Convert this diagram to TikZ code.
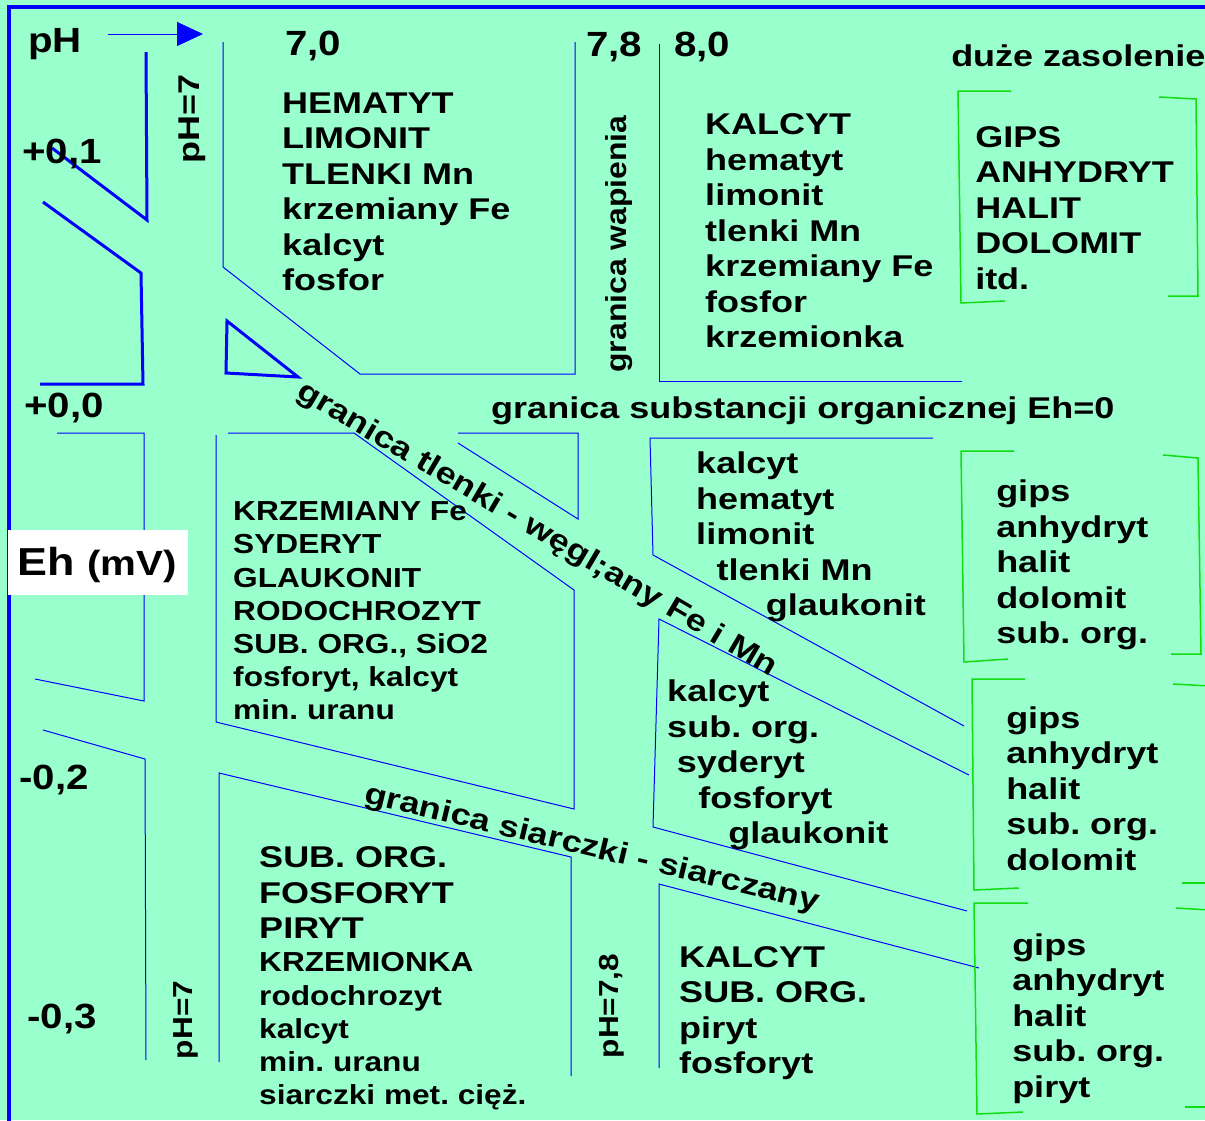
\documentclass[tikz,border=0pt]{standalone}
\usepackage{fontspec}
\setmainfont{Liberation Sans}
\usepackage{tikz}
\usetikzlibrary{arrows.meta}
\definecolor{mintbg}{HTML}{99FFCC}
\definecolor{lineblue}{HTML}{0000FF}
\definecolor{boxgreen}{HTML}{11DD11}
\frenchspacing
\tikzset{
  bigtxt/.style={font=\fontsize{30}{35.5}\selectfont\bfseries, xscale=1.2, inner sep=0pt, align=left},
  smalltxt/.style={font=\fontsize{27.5}{33.2}\selectfont\bfseries, xscale=1.15, inner sep=0pt, align=left},
  labtxt/.style={font=\fontsize{35}{40}\selectfont\bfseries, xscale=1.15, inner sep=0pt},
  bline/.style={lineblue, line width=1pt},
  bthick/.style={lineblue, line width=3pt},
  gline/.style={boxgreen, line width=1.5pt}
}

\begin{document}
\begin{tikzpicture}[x=1pt, y=-1pt]
  \useasboundingbox (0,0) rectangle (1205,1120);
  \fill[mintbg] (0,0) rectangle (1205,1120);
  \draw[lineblue, line width=3.5pt] (9,1130) -- (9,7) -- (1215,7);

  \draw[bline] (223,42) -- (223,267) -- (360,374) -- (575,374) -- (575,42);
  \draw[bline] (659,44) -- (659,381) -- (962,381);
  \draw[bline] (57,433) -- (144,433) -- (144,701) -- (35,679);
  \draw[bline] (228,433) -- (354,433) -- (574,590) -- (574,809) -- (216,722) -- (216,435);
  \draw[bline] (458,433) -- (578,433) -- (578,519) -- (458,443);
  \draw[bline] (933,438) -- (650,438) -- (653,555) -- (964,726);
  \draw[bline] (969,775) -- (659,619) -- (653,827) -- (967,911);
  \draw[bline] (43,730) -- (145,759) -- (146,1060);
  \draw[bline] (219,1062) -- (219,773) -- (571,857) -- (571,1076);
  \draw[bline] (979,968) -- (659,884) -- (659,1068);

  \draw[bthick] (146,52) -- (147,220) -- (52,148);
  \draw[bthick] (43,202) -- (141,273) -- (143,384) -- (40,384);
  \draw[bthick] (227,321) -- (226,373) -- (298,377) -- cycle;

  \draw[gline] (1011,91) -- (958,91) -- (961,303) -- (1005,301);
  \draw[gline] (1159,97) -- (1196,99) -- (1198,296) -- (1168,296);
  \draw[gline] (1014,451) -- (961,451) -- (964,662) -- (1008,659);
  \draw[gline] (1163,455) -- (1198,458) -- (1201,654) -- (1171,654);
  \draw[gline] (1025,679) -- (972,679) -- (974,890) -- (1019,888);
  \draw[gline] (1173,684) -- (1210,686);
  \draw[gline] (1182,883) -- (1210,883);
  \draw[gline] (1028,903) -- (974,903) -- (977,1114) -- (1023,1112);
  \draw[gline] (1176,908) -- (1210,910);
  \draw[gline] (1185,1107) -- (1210,1107);

  \node[labtxt, anchor=base west] (ph) at (28,52.7) {pH};
  \coordinate (arrs) at (108,34);
  \coordinate (arre) at (203,34);
  \draw[bline, -{Triangle[length=26pt,width=24pt]}] (arrs) -- (arre);

  \node[labtxt, anchor=base west] (v70) at (285,55) {7,0};
  \node[labtxt, anchor=base west] (v78) at (586,56.5) {7,8};
  \node[labtxt, anchor=base west] (v80) at (674,56.5) {8,0};
  \node[labtxt, anchor=base west] (e01) at (22,163) {+0,1};
  \node[labtxt, anchor=base west] (e00) at (24,417) {+0,0};
  \node[labtxt, anchor=base west] (e02) at (19,789) {-0,2};
  \node[labtxt, anchor=base west] (e03) at (27,1028) {-0,3};

  \fill[white] (8,530) rectangle (188,595);
  \node[anchor=base west, inner sep=0pt, xscale=1.15, font=\bfseries] (eh) at (17,575)
    {\fontsize{39}{44}\selectfont Eh \fontsize{35}{40}\selectfont(mV)};

  \node[rotate=90, bigtxt] (ph7a) at (192,118.5) {pH=7};
  \node[rotate=90, smalltxt] (ph7b) at (186,1020) {pH=7};
  \node[rotate=90, smalltxt] (ph78) at (612,1006) {pH=7,8};
  \node[rotate=90, font=\fontsize{29}{34}\selectfont\bfseries, xscale=1.1, inner sep=0pt] (wap) at (619,244) {granica wapienia};

  \node[rotate=-30.5, bigtxt] (tlen) at (537,530) {granica tlenki - węgl;any Fe i Mn};
  \node[rotate=-13.5, bigtxt] (siar) at (592,849) {granica siarczki - siarczany};
  \node[bigtxt, anchor=base west] (org) at (491,418) {granica substancji organicznej Eh=0};
  \node[bigtxt, anchor=base west] (sol) at (951,66) {duże zasolenie};

  \node[bigtxt, anchor=north west] (hem) at (282,92.5) {HEMATYT\\LIMONIT\\TLENKI Mn\\krzemiany Fe\\kalcyt\\fosfor};
  \node[bigtxt, anchor=north west] (kal) at (705,113.5) {KALCYT\\hematyt\\limonit\\tlenki Mn\\krzemiany Fe\\fosfor\\krzemionka};
  \node[smalltxt, anchor=north west] (krz) at (233,501.5) {KRZEMIANY Fe\\SYDERYT\\GLAUKONIT\\RODOCHROZYT\\SUB. ORG., SiO2\\fosforyt, kalcyt\\min. uranu};
  \node[bigtxt, anchor=north west] (sub) at (259,846.5) {SUB. ORG.\\FOSFORYT\\PIRYT};
  \node[smalltxt, anchor=north west] (krzm) at (259,952.5) {KRZEMIONKA\\rodochrozyt\\kalcyt\\min. uranu\\siarczki met. cięż.};
  \node[bigtxt, anchor=north west] (kalc) at (696,452) {kalcyt\\hematyt\\limonit\\\hspace*{17pt}tlenki Mn\\\hspace*{58pt}glaukonit};
  \node[bigtxt, anchor=north west] (kalb) at (667,680) {kalcyt\\sub. org.\\\hspace*{8pt}syderyt\\\hspace*{26pt}fosforyt\\\hspace*{51pt}glaukonit};
  \node[bigtxt, anchor=north west] (kalg) at (679,946) {KALCYT\\SUB. ORG.\\piryt\\fosforyt};

  \node[bigtxt, anchor=north west] (gipsa) at (975,126) {GIPS\\ANHYDRYT\\HALIT\\DOLOMIT\\itd.};
  \node[bigtxt, anchor=north west] (gipsb) at (996,480) {gips\\anhydryt\\halit\\dolomit\\sub. org.};
  \node[bigtxt, anchor=north west] (gipsc) at (1006,706.5) {gips\\anhydryt\\halit\\sub. org.\\dolomit};
  \node[bigtxt, anchor=north west] (gipsd) at (1012,933.5) {gips\\anhydryt\\halit\\sub. org.\\piryt};
\end{tikzpicture}
\end{document}
